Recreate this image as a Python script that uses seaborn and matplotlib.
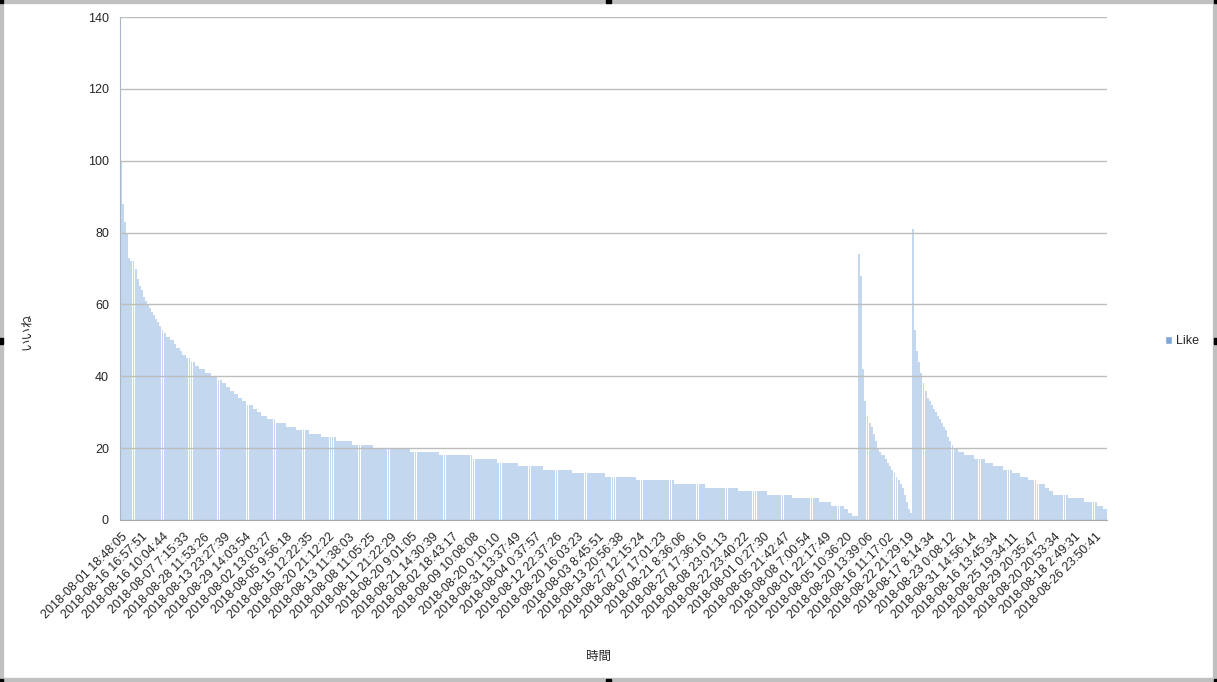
import numpy as np
import pandas as pd
import matplotlib
matplotlib.use("Agg")
import matplotlib.pyplot as plt
from matplotlib.patches import Patch, Rectangle
import seaborn as sns

# Like counts, stored as (value, number of consecutive bars)
like_values = [
    # first run, sorted high -> low
    100, 88, 83, 80, 73, 72, 70, 67, 65, 64, 62, 61, 60, 59, 58, 57, 56, 55, 54, 53,
    52, 51, 50, 49, 48, 47, 46, 45, 44, 43, 42, 41, 40, 39, 38, 37, 36, 35, 34, 33,
    32, 31, 30, 29, 28, 27, 26, 25, 24, 23, 22, 21, 20, 19, 18, 17, 16, 15, 14, 13,
    12, 11, 10, 9, 8, 7, 6, 5, 4, 3, 2, 1,
    # second run
    74, 68, 42, 33, 29, 27, 26, 24, 22, 20, 19, 18, 17, 16, 15, 14, 13, 12, 11, 10,
    9, 7, 5, 3, 2,
    # third run
    81, 53, 47, 44, 41, 38, 36, 34, 33, 32, 31, 30, 29, 28, 27, 26, 25, 23, 22, 21,
    20, 19, 18, 17, 16, 15, 14, 13, 12, 11, 10, 9, 8, 7, 6, 5, 4, 3,
]
like_runs = [
    1, 1, 1, 1, 1, 2, 1, 1, 1, 1, 1, 1, 1, 1, 1, 1, 1, 1, 1, 1,
    1, 2, 2, 1, 2, 1, 2, 2, 2, 2, 3, 3, 3, 2, 2, 2, 2, 2, 2, 2,
    3, 2, 2, 3, 4, 5, 5, 6, 6, 7, 8, 10, 18, 14, 16, 12, 10, 12, 14, 16,
    15, 18, 15, 16, 14, 12, 13, 6, 6, 2, 2, 3,
    1, 1, 1, 1, 1, 1, 1, 1, 1, 1, 1, 2, 1, 1, 1, 1, 1, 1, 1, 1,
    1, 1, 1, 1, 1,
    1, 1, 1, 1, 1, 1, 1, 1, 1, 1, 1, 1, 1, 1, 1, 1, 1, 1, 1, 1,
    2, 3, 5, 5, 4, 5, 4, 4, 4, 4, 4, 2, 2, 7, 8, 6, 3, 2,
]

# every 10th category is labelled on the x axis
time_labels = [
    "2018-08-01 18:48:05", "2018-08-16 16:57:51", "2018-08-16 10:04:44", "2018-08-07 7:15:33",
    "2018-08-28 11:53:26", "2018-08-13 23:27:39", "2018-08-29 14:03:54", "2018-08-02 13:03:27",
    "2018-08-05 9:56:18", "2018-08-15 12:22:35", "2018-08-20 21:12:22", "2018-08-13 11:38:03",
    "2018-08-08 11:05:25", "2018-08-11 21:22:29", "2018-08-20 9:01:05", "2018-08-21 14:30:39",
    "2018-08-02 18:43:17", "2018-08-09 10:08:08", "2018-08-20 0:10:10", "2018-08-31 13:37:49",
    "2018-08-04 0:37:57", "2018-08-12 22:37:26", "2018-08-20 16:03:23", "2018-08-03 8:45:51",
    "2018-08-13 20:56:38", "2018-08-27 12:15:24", "2018-08-07 17:01:23", "2018-08-21 8:36:06",
    "2018-08-27 17:36:16", "2018-08-08 23:01:13", "2018-08-22 23:40:22", "2018-08-01 0:27:30",
    "2018-08-05 21:42:47", "2018-08-08 7:00:54", "2018-08-01 22:17:49", "2018-08-05 10:36:20",
    "2018-08-20 13:39:06", "2018-08-16 11:17:02", "2018-08-22 21:29:19", "2018-08-17 8:14:34",
    "2018-08-23 0:08:12", "2018-08-31 14:56:14", "2018-08-16 13:45:34", "2018-08-25 19:34:11",
    "2018-08-29 20:35:47", "2018-08-20 20:53:34", "2018-08-18 2:49:31", "2018-08-26 23:50:41",
]
label_step = 10

likes = np.repeat(like_values, like_runs)
df = pd.DataFrame({"pos": np.arange(len(likes)), "like": likes})

sns.set_style("white")
plt.rcParams["font.family"] = ["Liberation Sans", "Noto Sans CJK JP", "DejaVu Sans"]

fig = plt.figure(figsize=(12.17, 6.82), dpi=100)
ax = fig.add_axes([120 / 1217, 1 - 520 / 682, 987 / 1217, 503 / 682])

sns.barplot(data=df, x="pos", y="like", color="#c3d7ee", saturation=1,
            width=0.92, linewidth=0, ax=ax)

ax.set_ylim(0, 140)
ax.set_xlim(-0.5, len(likes) - 0.5)
ax.set_yticks(range(0, 141, 20))
ax.yaxis.grid(True, color="#bdbdbd", linewidth=1)
ax.set_axisbelow(False)
for line in ax.get_ygridlines():
    line.set_zorder(0.5)

ax.set_xticks(range(0, len(likes), label_step))
ax.set_xticklabels(time_labels, rotation=45, ha="right", rotation_mode="anchor", fontsize=9)
ax.set_xticks(np.arange(len(likes)), minor=True)
ax.tick_params(axis="x", which="both", length=5, color="#b0b0b0", width=0.8, pad=3)
ax.tick_params(axis="y", length=5, color="#b0b0b0", labelsize=9, pad=3)

for side in ["top", "right"]:
    ax.spines[side].set_visible(False)
ax.spines["left"].set_color("#a9b6c8")
ax.spines["bottom"].set_color("#a8a8a8")

ax.set_xlabel("時間", fontsize=9)
ax.set_ylabel("いいね", fontsize=9)
ax.xaxis.set_label_coords(0.485, -0.26)
ax.yaxis.set_label_coords(-0.088, 0.375)

ax.legend(handles=[Patch(facecolor="#7ea7d8", label="Like")], loc="center left",
          bbox_to_anchor=(1.047, 0.355), frameon=False, fontsize=9,
          handlelength=0.6, handleheight=0.6, handletextpad=0.3)

# grey chart border with selection handles
fig.patches.append(Rectangle((0, 0), 1, 1, transform=fig.transFigure, fill=False,
                             edgecolor="#c0c0c0", linewidth=6))
for hx, hy in [(0, 0), (0.5, 0), (1, 0), (0, 0.5), (1, 0.5), (0, 1), (0.5, 1), (1, 1)]:
    fig.patches.append(Rectangle((hx - 3 / 1217, hy - 3 / 682), 6 / 1217, 6 / 682,
                                 transform=fig.transFigure, color="black"))

fig.savefig("out.png", dpi=100)
